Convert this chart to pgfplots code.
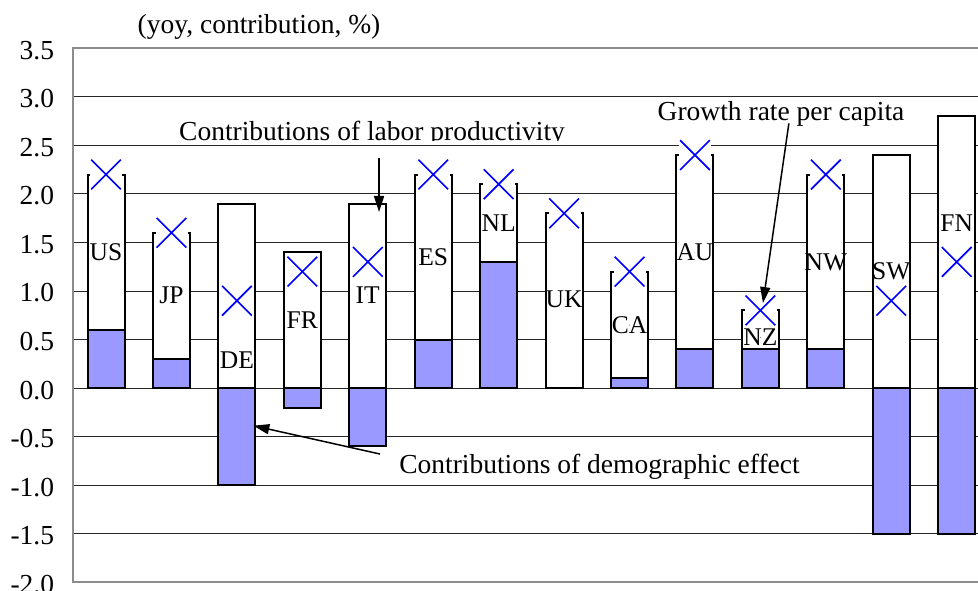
\documentclass[border=0pt]{standalone}
\usepackage{fontspec}
\setmainfont{Liberation Serif}
\usepackage{pgfplots}
\pgfplotsset{compat=1.18}
\usepackage{pgfplotstable}
\usetikzlibrary{arrows.meta}
\definecolor{demo}{RGB}{153,153,255}
\newcommand\bigf{\fontsize{27.5}{33}\selectfont}
\newcommand\labf{\fontsize{25.5}{30}\selectfont}

\pgfplotstableread{
x demo labor growth ly lab
1 0.6 1.6 2.2 1.40 US
2 0.3 1.3 1.6 0.96 JP
3 -1.0 1.9 0.9 0.29 DE
4 -0.2 1.4 1.2 0.70 FR
5 -0.6 1.9 1.3 0.96 IT
6 0.5 1.7 2.2 1.35 ES
7 1.3 0.8 2.1 1.70 NL
8 0.0 1.8 1.8 0.91 UK
9 0.1 1.1 1.2 0.65 CA
10 0.4 2.0 2.4 1.40 AU
11 0.4 0.4 0.8 0.52 NZ
12 0.4 1.8 2.2 1.30 NW
13 -1.5 2.4 0.9 1.20 SW
14 -1.5 2.8 1.3 1.70 FN
}\data

\begin{document}
\begin{tikzpicture}
\begin{axis}[
  scale only axis, width=917pt, height=534pt,
  xmin=0.5, xmax=14.513, ymin=-2, ymax=3.5,
  xtick=\empty,
  ytick={-2,-1.5,-1,-0.5,0,0.5,1,1.5,2,2.5,3,3.5},
  ymajorgrids, grid style={black!85, line width=1pt},
  axis line style={black!45, line width=2pt},
  major tick length=0pt,
  /pgf/number format/assume math mode=true,
  yticklabel style={font=\bigf, anchor=east, inner sep=0pt, xshift=-19pt, yshift=-2pt,
    /pgf/number format/fixed, /pgf/number format/fixed zerofill, /pgf/number format/precision=1},
]
\addplot[ybar, bar width=0.565, bar shift=0pt, fill=white, draw=black, line width=2pt]
  table[x=x, y expr={\thisrow{labor}+max(\thisrow{demo},0)}] {\data};
\addplot[ybar, bar width=0.565, bar shift=0pt, fill=demo, draw=black, line width=2pt]
  table[x=x, y=demo] {\data};
\addplot[only marks, color=white, line width=0.1pt, mark=square*, mark size=15.5pt,
  mark options={fill=white, draw=white}]
  table[x=x, y=growth] {\data};
\addplot[only marks, blue, mark=x, mark size=21pt, mark options={draw=blue, line width=1.6pt}]
  table[x=x, y=growth] {\data};
\addplot[only marks, mark=*, mark size=0.01pt, mark options={draw=none, fill=none},
  nodes near coords, point meta=explicit symbolic,
  nodes near coords style={anchor=center, font=\labf, inner sep=0pt, text=black}]
  table[x=x, y=ly, meta=lab] {\data};
\coordinate (O) at (rel axis cs:0,0);
\coordinate (tt) at (axis cs:3.338,3.657);
\coordinate (t1) at (axis cs:5.065,2.551);
\coordinate (t2) at (axis cs:11.315,2.760);
\coordinate (t3) at (axis cs:8.541,-0.878);
\coordinate (a1s) at (axis cs:5.172,2.370);
\coordinate (a1e) at (axis cs:5.172,1.814);
\coordinate (a2s) at (axis cs:11.435,2.727);
\coordinate (a2e) at (axis cs:11.039,0.876);
\coordinate (a3s) at (axis cs:5.187,-0.679);
\coordinate (a3e) at (axis cs:3.251,-0.387);
\end{axis}
\node[anchor=base, font=\bigf, inner sep=0pt] at (tt) {(yoy, contribution, \%)};
\begin{scope}
\clip ([xshift=-260pt, yshift=-0.3pt]t1) rectangle ([xshift=260pt, yshift=40pt]t1);
\node[anchor=base, font=\bigf, inner sep=0pt] at (t1) {Contributions of labor productivity};
\end{scope}
\node[anchor=base, font=\bigf, inner sep=0pt] at (t2) {Growth rate per capita};
\node[anchor=base, font=\bigf, inner sep=0pt] at (t3) {Contributions of demographic effect};
\draw[line width=1.5pt, -{Triangle[length=16pt,width=10pt]}] (a1s) -- (a1e);
\draw[line width=1.5pt, -{Triangle[length=16pt,width=10pt]}] (a2s) -- (a2e);
\draw[line width=1.5pt, -{Triangle[length=16pt,width=10pt]}] (a3s) -- (a3e);
\pgfresetboundingbox
\useasboundingbox ([xshift=-73.3pt, yshift=-8.7pt]O) rectangle ([xshift=904.7pt, yshift=582.3pt]O);
\end{tikzpicture}
\end{document}
